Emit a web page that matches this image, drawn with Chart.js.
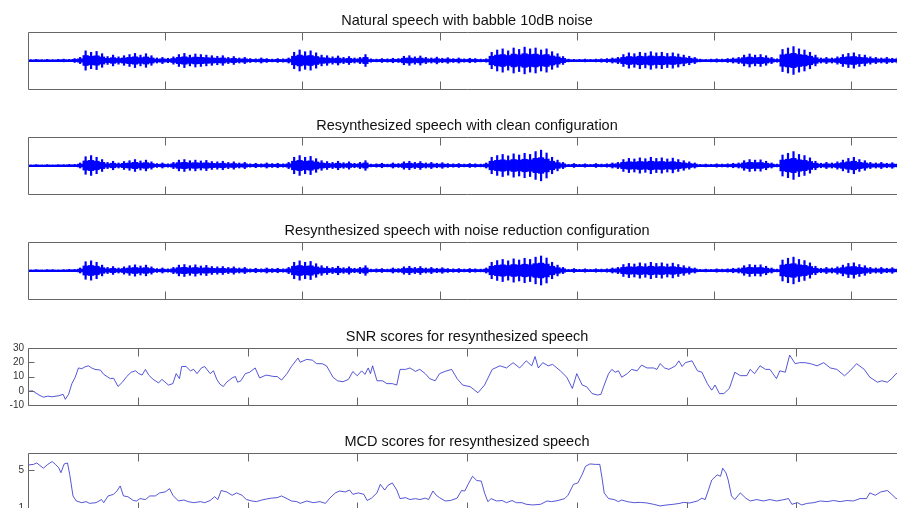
<!DOCTYPE html>
<html>
<head>
<meta charset="utf-8">
<script src="https://cdn.jsdelivr.net/npm/chart.js@4.4.1/dist/chart.umd.min.js"></script>
<style>
  body { margin: 0; background: #fff; overflow: hidden; width: 897px; height: 508px; position: relative; }
  canvas { position: absolute; left: 0; }
</style>
</head>
<body>
<canvas id="c0" width="1000" height="98"></canvas>
<canvas id="c1" width="1000" height="98"></canvas>
<canvas id="c2" width="1000" height="98"></canvas>
<canvas id="c3" width="1000" height="98"></canvas>
<canvas id="c4" width="1000" height="98"></canvas>
<script>
// titles
const titles = [
  "Natural speech with babble 10dB noise",
  "Resynthesized speech with clean configuration",
  "Resynthesized speech with noise reduction configuration",
  "SNR scores for resynthesized speech",
  "MCD scores for resynthesized speech"
];

// waveform envelopes, one value per 200 samples (32000 samples)
const waveStep = 200;
const naturalAmp = [
  0.04,0.05,0.04,0.05,0.04,0.05,0.06,0.05, 0.08,0.12,
  0.35,0.3,0.33,0.25, 0.15,0.2,0.14,0.18, 0.22,0.26,0.2,0.25,0.18,
  0.1,0.12,0.09,0.14, 0.22,0.26,0.2,0.24,0.22,0.2,0.18,
  0.16,0.18,0.12,0.15,0.1,0.12, 0.08,0.07,0.1,0.08,0.06,0.08,0.07,0.1,
  0.3,0.38,0.32,0.35,0.28,0.2, 0.18,0.14,0.17,0.12,0.15,0.1,0.12, 0.22,
  0.07,0.06,0.08,0.07,0.09,0.08, 0.16,0.18,0.14,0.17, 0.12,0.1,0.13,0.09,0.11,
  0.08,0.1,0.07,0.09,0.08,0.06,0.07,
  0.3,0.38,0.42,0.35,0.45,0.4,0.48,0.42,0.45,0.38,0.42,0.32,0.25,0.15,
  0.06,0.05,0.05,0.06,0.05,0.06,0.07, 0.08,0.1,0.12,
  0.22,0.28,0.25,0.3,0.27,0.32,0.28,0.3,0.26,0.28,0.24,0.2,0.16,0.12,
  0.06,0.05,0.06,0.07,0.06,0.08,0.1,0.12, 0.2,0.24,0.2,0.22,0.18,0.12, 0.07,
  0.4,0.45,0.5,0.42,0.38,0.3,0.2, 0.1,0.12,0.1,0.14,
  0.22,0.26,0.28,0.22,0.2,0.14, 0.12,0.1,0.12,0.09,0.11,0.1
];
const cleanAmp = [
  0.03,0.04,0.03,0.04,0.03,0.04,0.04,0.05, 0.05,0.1,
  0.32,0.36,0.3,0.22, 0.12,0.16,0.1,0.15, 0.18,0.22,0.17,0.2,0.14,
  0.08,0.1,0.07,0.12, 0.2,0.22,0.18,0.2,0.17,0.19,0.15,
  0.14,0.16,0.12,0.14,0.1,0.12, 0.07,0.09,0.07,0.1,0.08,0.09,0.07,0.12,
  0.3,0.36,0.3,0.33,0.25,0.18, 0.15,0.12,0.16,0.11,0.14,0.09,0.12, 0.18,
  0.06,0.07,0.09,0.06,0.1,0.08, 0.14,0.16,0.12,0.15, 0.1,0.12,0.09,0.11,0.08,
  0.07,0.08,0.06,0.08,0.07,0.06,0.1,
  0.3,0.36,0.4,0.35,0.42,0.38,0.44,0.4,0.5,0.55,0.45,0.3,0.2,0.12,
  0.05,0.08,0.05,0.07,0.05,0.08,0.06, 0.07,0.1,0.12,
  0.22,0.26,0.24,0.28,0.25,0.3,0.26,0.28,0.24,0.27,0.22,0.18,0.14,0.1,
  0.05,0.06,0.05,0.07,0.06,0.07,0.09,0.1, 0.18,0.22,0.2,0.21,0.16,0.1, 0.06,
  0.38,0.44,0.5,0.4,0.36,0.28,0.16, 0.09,0.12,0.1,0.14,
  0.2,0.26,0.3,0.22,0.18,0.12, 0.1,0.12,0.09,0.11,0.08,0.1
];
const nrAmp = [
  0.03,0.04,0.03,0.04,0.04,0.03,0.04,0.05, 0.05,0.1,
  0.32,0.35,0.3,0.2, 0.12,0.15,0.1,0.14, 0.18,0.21,0.17,0.2,0.14,
  0.08,0.1,0.07,0.12, 0.2,0.22,0.18,0.21,0.17,0.19,0.15,
  0.14,0.15,0.12,0.14,0.1,0.12, 0.07,0.09,0.07,0.1,0.08,0.09,0.07,0.12,
  0.3,0.35,0.3,0.33,0.25,0.18, 0.15,0.12,0.16,0.11,0.14,0.09,0.12, 0.18,
  0.06,0.07,0.08,0.06,0.1,0.08, 0.14,0.16,0.12,0.15, 0.1,0.12,0.09,0.11,0.08,
  0.07,0.08,0.06,0.08,0.07,0.06,0.1,
  0.3,0.36,0.4,0.35,0.42,0.38,0.44,0.4,0.48,0.52,0.45,0.3,0.2,0.12,
  0.05,0.08,0.05,0.07,0.05,0.07,0.06, 0.07,0.1,0.12,
  0.22,0.26,0.24,0.28,0.25,0.3,0.26,0.28,0.24,0.27,0.22,0.18,0.14,0.1,
  0.05,0.06,0.05,0.07,0.06,0.07,0.09,0.1, 0.18,0.22,0.2,0.21,0.16,0.1, 0.06,
  0.38,0.44,0.48,0.4,0.36,0.28,0.16, 0.09,0.12,0.1,0.14,
  0.2,0.26,0.28,0.22,0.18,0.12, 0.1,0.12,0.09,0.11,0.08,0.1
];

// SNR per frame (400 frames)
const snrFrames = [0,2,5,7,9,11,14,16,17,18.5,20,21.5,23,24.5,26,27.5,29,30.5,33,34.5,36,37.5,39,41,43,45,47,49,50.5,52,53.5,55,57,59.5,61,64,66,67.5,69,70,72,74,75.5,77,79,80.5,83,84.5,86,87.5,89,90.5,93,94.5,95.5,97,99,101,103.5,105.5,108.5,112,113.5,115.5,118,120,123,124,127,129.5,131.5,134,136,139,141,143.5,146,148,150,152,153.5,155,156,157,159,161.5,163.5,166,168,169.5,172,174,176.5,178.5,181,183,185.5,187.5,190,193,195.5,198,201.5,205,208,211.5,215,218,221,224,227,229.5,231,232.5,234.5,237,239,242.5,245.5,248,250,252.5,254.5,257,259.5,261,262.5,264.5,266,267.5,269,270.5,273,275,277.5,279.5,282,285,286.5,288,290,292,295,296.5,298,299.5,302.5,305,307,309.5,311.5,313,315,317,319.5,320.5,322,324.5,327.5,329,331,333.5,336,338,341,342.5,345,347,349.5,351.5,354,356.5,359.5,362.5,365.5,368.5,372,374.5,377.5,381,383.5,387,389,391.5,393.5,395.5,400];
const snrValues = [-0.4,0,-3,-4.5,-3.8,-4.2,-3.5,-2.5,-6,-2.5,5,9.5,16,15.5,16.8,17.5,16,15,14.5,11.5,10,8.5,8.8,3,6,10,13,14,12,11,15,11,8,5.5,8,4,5,12,8.5,17,17,14,15,12,16,17,12,14,8,4.5,3,6,9,10,6,7,12,13,16,9,11,10,10,7.5,12,17,23,20,22,21.5,19,19,17.5,9.4,7,6.3,8,13.5,10.5,14,11.5,16,12,17.5,7,7,5,5,4,15,15,16,13.6,15,12,8.5,7,12,13.6,15,8.5,4,2.8,-1.4,4,15,17.5,16,19.7,16,21,17.5,24,16,19.7,17.5,18.5,14,9.4,1.6,12,4,2.8,-2,-3,-2.5,4,12,15,13,14,9.5,12,15,14,18,16,16,15,19,16,15,17.5,21,17,19.7,21,14,13,5,0.4,4,-2,-2,1.6,6,13,10.6,10.6,15,12,17.5,15,15,8.5,14,13,25,19,19.7,19.7,19,17.5,19.7,16,15,10.5,14,19,15,9.5,6,7,6,8.5,12,13];

// MCD per frame
const mcdFrames = [0,2.5,4,7,9,11,12.5,14,15,16.5,18,19,20.5,22,24.5,26.5,28,31,33.5,34.5,36.5,39,40.5,42,43.5,45.5,48,49.5,51,53.5,55.5,58,60,62.5,64.5,66,68.5,71,73,75.5,78.5,80.5,83,85,86.5,88,90.5,93,95,97.5,99.5,102,104,106.5,108.5,111,113.5,115.5,118,120,122.5,124,127,130,133,135.5,137.5,140,142,144.5,146.5,148,150.5,153,154.5,156.5,159,160.5,162.5,164,166,168,169.5,172,174,176.5,178.5,181,182.5,184.5,186,187.5,190,192.5,195.5,197.5,199,200.5,202.5,204.5,206.5,208,209.5,211,213.5,216,218,220.5,222.5,225,227,230,233.5,236.5,238.5,241.5,244.5,246,248.5,250.5,252.5,254,256,258.5,260.5,261.5,262.5,264.5,267,269,270.5,273,276,279,282,285,288,291,294,297,298.5,301.5,305,307,308.5,310,311.5,314,315.5,316.5,318,319,320.5,322,324.5,327,329,332,335,338,341,343.5,346.5,348,350.5,352.5,355,358,361,364,367,370,373,376,379,382,383.5,386,388.5,391.5,393.5,395.5,400];
const mcdValues = [5.54,5.6,5.75,5.2,5.6,5.9,5.6,5.25,4.73,5.65,5.75,4.55,2.28,1.75,1.57,1.68,1.5,1.57,1.9,1.57,2.28,2.45,2.8,3.33,2.28,2.2,1.8,1.75,2.0,1.9,2.28,2.28,2.6,2.7,3.05,2.35,1.75,1.85,1.68,1.57,1.68,1.57,1.8,2.2,1.9,2.85,2.7,2.35,2.6,2.35,1.9,1.75,1.68,1.85,1.95,2.05,2.1,2.28,2.0,1.75,1.68,1.5,1.75,1.57,1.68,1.5,2.05,2.6,2.8,2.7,2.9,2.45,2.6,2.45,1.8,2.05,2.6,3.5,2.9,3.4,3.65,2.9,2.0,2.1,1.9,2.0,1.9,2.05,1.9,2.8,2.35,2.1,1.75,1.8,2.05,2.85,2.8,3.5,4.35,3.9,3.85,2.6,1.68,2.0,1.75,1.8,1.57,1.8,1.57,1.57,1.4,1.33,1.4,1.75,1.68,1.8,2.0,2.35,3.5,3.65,4.55,5.4,5.65,5.6,5.6,4.2,2.6,2.0,1.9,1.68,1.85,1.68,1.57,1.6,1.54,1.4,1.23,1.33,1.4,1.5,1.6,1.54,1.75,2.05,1.9,2.9,3.95,4.5,4.35,5.2,4.7,3.95,2.28,1.9,2.6,2.05,1.75,1.9,1.75,1.9,1.75,1.85,2.0,1.4,1.57,1.33,1.5,1.57,1.75,1.68,1.8,1.68,1.8,1.75,2.0,2.0,2.6,2.35,2.7,2.85,2.45,2.0,2.1];

// ticks
const waveTicks = [5000, 10000, 15000, 20000, 25000, 30000];
const frameTicks = [50, 100, 150, 200, 250, 300, 350];
const snrTicks = [-10, 0, 10, 20, 30];
const mcdTicks = [1, 5];

const panelTops = [32, 137, 242, 348, 453];

const framePlugin = {
  id: "frame",
  afterDatasetsDraw(chart, args, opts) {
    const ctx = chart.ctx, a = chart.chartArea;
    const xs = chart.scales.x, ys = chart.scales.y;
    ctx.save();
    if (opts.zero) {
      const y0 = Math.round(ys.getPixelForValue(0)) + 0.5;
      ctx.strokeStyle = "#0000ff";
      ctx.beginPath(); ctx.moveTo(a.left, y0); ctx.lineTo(a.right, y0); ctx.stroke();
    }
    ctx.strokeStyle = "#666";
    ctx.lineWidth = 1;
    const l = Math.round(a.left) + 0.5, t = Math.round(a.top) + 0.5;
    const r = Math.round(a.right) + 0.5, b = Math.round(a.bottom) + 0.5;
    ctx.beginPath();
    ctx.rect(l, t, r - l, b - t);
    (opts.xTicks || []).forEach(v => {
      const px = Math.round(xs.getPixelForValue(v)) + 0.5;
      ctx.moveTo(px, t); ctx.lineTo(px, t + 8);
      ctx.moveTo(px, b); ctx.lineTo(px, b - 8);
    });
    (opts.yTicks || []).forEach(v => {
      const py = Math.round(ys.getPixelForValue(v)) + 0.5;
      ctx.moveTo(l, py); ctx.lineTo(l + 6, py);
    });
    ctx.stroke();
    ctx.restore();
  }
};

function titleOpts(i) {
  return {
    display: true, text: titles[i], fullSize: false, color: "#111",
    font: { family: "Liberation Sans", size: 14.5, weight: "normal" },
    padding: { top: 10, bottom: 2.6 }
  };
}

function wavePanel(i, amp) {
  const el = document.getElementById("c" + i);
  el.style.top = (panelTops[i] - 30) + "px";
  new Chart(el, {
    type: "bar",
    data: {
      datasets: [
        {
          data: amp.map((v, k) => ({ x: (k + 0.5) * waveStep, y: [-v, v] })),
          backgroundColor: "#0000ff", barPercentage: 0.4, categoryPercentage: 1, grouped: false
        },
        {
          data: amp.map((v, k) => ({ x: (k + 0.5) * waveStep, y: [-v * 0.5, v * 0.5] })),
          backgroundColor: "#0000ff", barPercentage: 1, categoryPercentage: 1, grouped: false
        }
      ]
    },
    options: {
      responsive: false, animation: false, devicePixelRatio: 1,
      layout: { padding: { left: 28, right: 94, top: 0, bottom: 11 } },
      scales: {
        x: { type: "linear", min: 0, max: 32000, offset: false, display: false },
        y: { min: -1, max: 1, display: false }
      },
      plugins: {
        legend: { display: false }, tooltip: { enabled: false },
        title: titleOpts(i),
        frame: { xTicks: waveTicks, zero: true }
      }
    },
    plugins: [framePlugin]
  });
}

function scorePanel(i, frames, values, yMin, yMax, yTicks) {
  const el = document.getElementById("c" + i);
  el.style.top = (panelTops[i] - 30) + "px";
  new Chart(el, {
    type: "line",
    data: {
      datasets: [{
        data: frames.map((f, k) => ({ x: f, y: values[k] })),
        borderColor: "rgba(30,30,200,0.75)", borderWidth: 1, pointRadius: 0, tension: 0
      }]
    },
    options: {
      responsive: false, animation: false, devicePixelRatio: 1,
      layout: { padding: { left: 0, right: 94, top: 0, bottom: 11 } },
      scales: {
        x: { type: "linear", min: 0, max: 400, display: false },
        y: {
          min: yMin, max: yMax,
          afterFit: s => { s.width = 28; },
          afterBuildTicks: s => { s.ticks = yTicks.map(v => ({ value: v })); },
          grid: { display: false, drawTicks: false },
          border: { display: false },
          ticks: { color: "#333", padding: 4, autoSkip: false, font: { family: "Liberation Sans", size: 10 } }
        }
      },
      plugins: {
        legend: { display: false }, tooltip: { enabled: false },
        title: titleOpts(i),
        frame: { xTicks: frameTicks, yTicks: yTicks }
      }
    },
    plugins: [framePlugin]
  });
}

wavePanel(0, naturalAmp);
wavePanel(1, cleanAmp);
wavePanel(2, nrAmp);
scorePanel(3, snrFrames, snrValues, -10, 30, snrTicks);
scorePanel(4, mcdFrames, mcdValues, 0.8, 6.8, mcdTicks);
</script>
</body>
</html>
